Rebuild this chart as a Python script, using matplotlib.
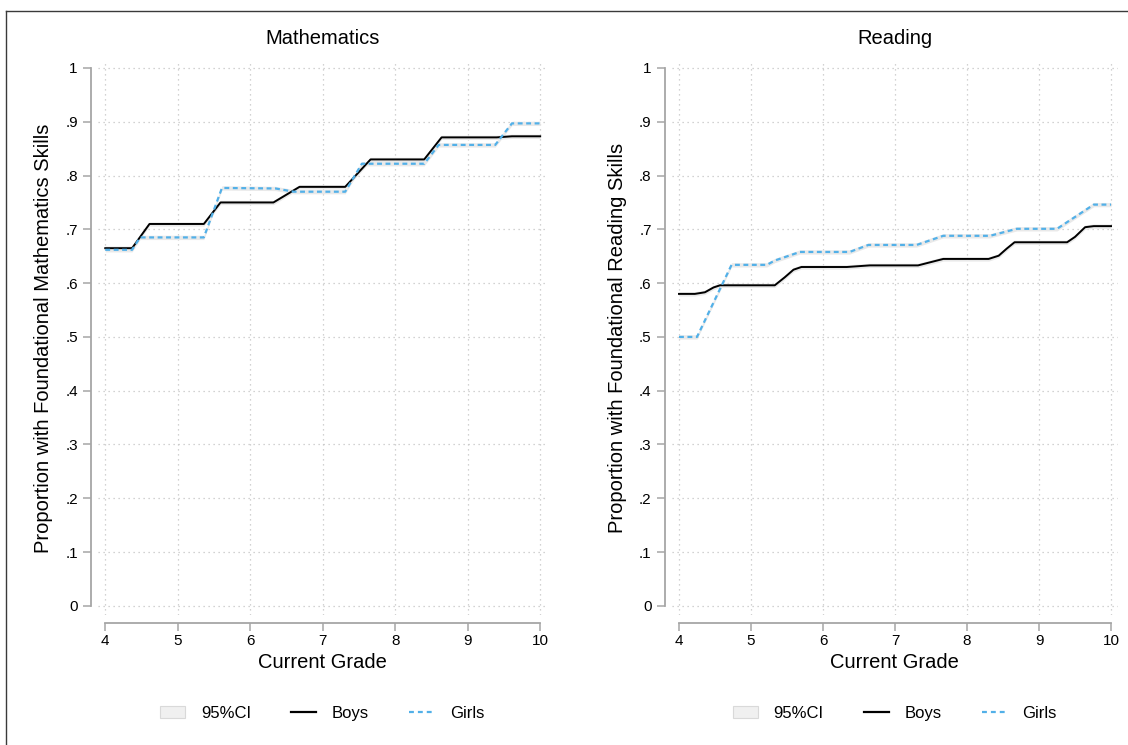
import matplotlib
matplotlib.use("Agg")
import matplotlib.pyplot as plt
from matplotlib.lines import Line2D
from matplotlib.patches import Patch

plt.rcParams['font.family'] = ['Liberation Sans', 'DejaVu Sans']

# ---- data ----
math_boys_x = [4.0, 4.37, 4.61, 5.36, 5.59, 6.32, 6.68, 7.31, 7.66, 8.40, 8.64, 9.40, 9.61, 10.0]
math_boys_y = [0.665, 0.665, 0.710, 0.710, 0.750, 0.750, 0.779, 0.779, 0.830, 0.830, 0.871, 0.871, 0.873, 0.873]
math_girls_x = [4.0, 4.37, 4.48, 5.36, 5.61, 6.35, 6.60, 7.31, 7.54, 8.40, 8.60, 9.38, 9.61, 10.0]
math_girls_y = [0.662, 0.662, 0.685, 0.685, 0.777, 0.776, 0.770, 0.770, 0.822, 0.822, 0.857, 0.857, 0.897, 0.897]

read_boys_x = [4.0, 4.22, 4.36, 4.48, 4.57, 5.33, 5.47, 5.59, 5.70, 6.33, 6.65, 7.32, 7.67, 8.30, 8.44, 8.55, 8.66, 9.39, 9.50, 9.64, 9.76, 10.0]
read_boys_y = [0.580, 0.580, 0.583, 0.592, 0.596, 0.596, 0.611, 0.625, 0.630, 0.630, 0.633, 0.633, 0.645, 0.645, 0.651, 0.664, 0.676, 0.676, 0.686, 0.704, 0.706, 0.706]
read_girls_x = [4.0, 4.25, 4.73, 5.22, 5.33, 5.68, 6.37, 6.63, 7.30, 7.67, 8.32, 8.69, 9.25, 9.76, 10.0]
read_girls_y = [0.500, 0.500, 0.634, 0.634, 0.642, 0.658, 0.658, 0.671, 0.671, 0.688, 0.688, 0.701, 0.701, 0.746, 0.746]

ci_half = 0.004  # CI band is very narrow in the original
titles = ['Mathematics', 'Reading']
ylabels = ['Proportion with Foundational Mathematics Skills',
           'Proportion with Foundational Reading Skills']
yticks = [0, 0.1, 0.2, 0.3, 0.4, 0.5, 0.6, 0.7, 0.8, 0.9, 1.0]
ytick_labels = ['0', '.1', '.2', '.3', '.4', '.5', '.6', '.7', '.8', '.9', '1']
xticks = [4, 5, 6, 7, 8, 9, 10]

blue = '#52b0e8'
ci_color = '#e9e9e9'
axis_grey = '#a6a6a6'

W, H = 1128, 745
fig = plt.figure(figsize=(W / 100, H / 100), dpi=100)
fig.patch.set_facecolor('white')

# outer frame (top and left only visible)
fig.add_artist(Line2D([6 / W, 1], [1 - 11 / H, 1 - 11 / H], color='#3a3a3a', lw=1.0))
fig.add_artist(Line2D([6 / W, 6 / W], [1 - 11 / H, 0], color='#3a3a3a', lw=1.0))

panels = [
    (98, 546.7, math_boys_x, math_boys_y, math_girls_x, math_girls_y),
    (671.8, 1117.5, read_boys_x, read_boys_y, read_girls_x, read_girls_y),
]

for i, (l, r, bx, by, gx, gy) in enumerate(panels):
    top, bot = 61, 615
    ax = fig.add_axes([l / W, 1 - bot / H, (r - l) / W, (bot - top) / H])
    ax.set_xlim(3.9, 10.09)
    ax.set_ylim(-0.017, 1.013)

    ax.fill_between(bx, [v - ci_half for v in by], [v + ci_half for v in by],
                    color=ci_color, lw=0, zorder=1)
    ax.fill_between(gx, [v - ci_half for v in gy], [v + ci_half for v in gy],
                    color=ci_color, lw=0, zorder=1)
    ax.plot(bx, by, color='black', lw=1.4, zorder=3)
    ax.plot(gx, gy, color=blue, lw=1.6, dashes=(2.2, 1.6), zorder=4)

    ax.set_yticks(yticks)
    ax.set_yticklabels(ytick_labels)
    ax.set_xticks(xticks)
    ax.grid(True, color='#c4c4c4', linestyle=(0, (1, 3)), lw=0.9)
    ax.set_axisbelow(True)

    for s in ['top', 'right']:
        ax.spines[s].set_visible(False)
    ax.spines['left'].set_position(('outward', 5))
    ax.spines['bottom'].set_position(('outward', 6))
    ax.spines['left'].set_bounds(0, 1)
    ax.spines['bottom'].set_bounds(4, 10)
    for s in ['left', 'bottom']:
        ax.spines[s].set_color(axis_grey)
        ax.spines[s].set_linewidth(1.3)
    ax.tick_params(axis='both', colors=axis_grey, labelcolor='black',
                   labelsize=11, length=6, width=1.1)
    ax.tick_params(axis='x', pad=2)

    ax.set_title(titles[i], fontsize=14.5, pad=12)
    ax.set_xlabel('Current Grade', fontsize=14.5, labelpad=3)
    ax.set_ylabel(ylabels[i], fontsize=14.5, labelpad=9)

    handles = [Patch(facecolor='#f0f0f0', edgecolor='#d9d9d9', lw=0.8),
               Line2D([], [], color='black', lw=1.6),
               Line2D([], [], color=blue, lw=1.6, dashes=(2.2, 1.8))]
    ax.legend(handles, ['95%CI', 'Boys', 'Girls'], ncol=3, frameon=False,
              loc='center', bbox_to_anchor=(0.5, -0.177), fontsize=12,
              handlelength=1.5, handletextpad=0.95, columnspacing=2.4)

fig.savefig('out.png', dpi=100)
